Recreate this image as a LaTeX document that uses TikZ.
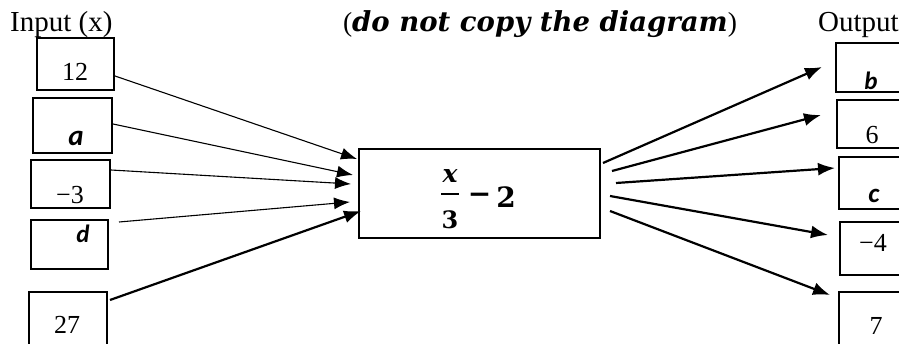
\documentclass[tikz,border=0pt]{standalone}
\usepackage{fontspec}
\setmainfont{Liberation Serif}
\newfontfamily\calib{Carlito}
\newfontfamily\dvs{DejaVu Serif}
\usetikzlibrary{arrows.meta}
\begin{document}
\begin{tikzpicture}[x=1pt,y=-1pt,
  box/.style={draw, line width=2pt, inner sep=0pt},
  numtxt/.style={inner sep=0pt, font=\fontsize{26}{30}\selectfont},
  lettxt/.style={inner sep=0pt},
  formtxt/.style={inner sep=0pt},
  thinarrow/.style={line width=1.1pt, -{Latex[length=16pt,width=12pt]}},
  thickarrow/.style={line width=2.2pt, -{Latex[length=17pt,width=13pt]}},
  headtxt/.style={inner sep=0pt, anchor=base west, font=\fontsize{29}{34}\selectfont}]
\useasboundingbox (0,0) rectangle (899,344);
\clip (0,0) rectangle (899,344);
% headings
\node[headtxt] (hin) at (10,32) {Input (x)};
\node[headtxt] (hout) at (818,32) {Output};
\node[inner sep=0pt, anchor=base, font=\fontsize{27.5}{32}\selectfont] (note) at (540,32)
  {({\dvs\bfseries\itshape do not copy the diagram})};
% input boxes
\node[box, minimum width=77pt, minimum height=52pt] (in1) at (75.5,64) {};
\node[box, minimum width=79pt, minimum height=55pt] (in2) at (72.5,125.5) {};
\node[box, minimum width=79pt, minimum height=48pt] (in3) at (70.5,184) {};
\node[box, minimum width=77pt, minimum height=49pt] (in4) at (69.5,244.5) {};
\node[box, minimum width=78pt, minimum height=68pt] (in5) at (68,326) {};
\node[numtxt] (v12) at (75,72) {12};
\node[lettxt, font=\fontsize{29}{32}\selectfont\calib\bfseries\itshape] (va) at (76,138) {a};
\node[numtxt] (vm3) at (70,195) {\char"2212 3};
\node[lettxt, font=\fontsize{25}{28}\selectfont\calib\bfseries\itshape] (vd) at (83,234) {d};
\node[numtxt] (v27) at (67,325) {27};
% function box
\node[box, minimum width=241pt, minimum height=89pt] (f) at (479.5,193.5) {};
\node[formtxt, font=\fontsize{25}{28}\selectfont\dvs\bfseries\itshape] (fx) at (450,176.5) {x};
\node[formtxt, font=\fontsize{24}{26}\selectfont\dvs\bfseries] (f3) at (450,220) {3};
\draw[line width=1.4pt] (441,194) -- (459,194);
\node[formtxt, font=\fontsize{28}{30}\selectfont\dvs\bfseries] (fmin) at (479.5,198) {\char"2212};
\node[formtxt, font=\fontsize{28}{30}\selectfont\dvs\bfseries] (f2) at (506,197) {2};
% output boxes
\node[box, minimum width=74pt, minimum height=49pt] (out1) at (873,67.5) {};
\node[box, minimum width=73pt, minimum height=48pt] (out2) at (873.5,124) {};
\node[box, minimum width=71pt, minimum height=52pt] (out3) at (874.5,183) {};
\node[box, minimum width=70pt, minimum height=53pt] (out4) at (875,248.5) {};
\node[box, minimum width=71pt, minimum height=68pt] (out5) at (874.5,326) {};
\node[lettxt, font=\fontsize{25}{28}\selectfont\calib\bfseries\itshape] (vb) at (871,81) {b};
\node[numtxt] (v6) at (872,135) {6};
\node[lettxt, font=\fontsize{27}{30}\selectfont\calib\bfseries\itshape] (vc) at (874,196) {c};
\node[numtxt] (vm4) at (873,243) {\char"2212 4};
\node[numtxt] (v7) at (876,326) {7};
% input arrows
\draw[thinarrow] ([yshift=-12pt]in1.east) -- ([xshift=-1pt,yshift=34.5pt]f.west);
\draw[thinarrow] ([yshift=1.5pt]in2.east) -- ([xshift=-5pt,yshift=18.5pt]f.west);
\draw[thinarrow] ([yshift=14pt]in3.east) -- ([xshift=-7pt,yshift=9.5pt]f.west);
\draw[thinarrow] ([xshift=10pt,yshift=22.5pt]in4.east) -- ([xshift=-8pt,yshift=-8.5pt]f.west);
\draw[thickarrow] ([xshift=2pt,yshift=26pt]in5.east) -- ([xshift=3pt,yshift=-17.5pt]f.west);
% output arrows
\draw[thickarrow] ([xshift=2pt,yshift=30.5pt]f.east) -- ([xshift=-13pt,yshift=0.5pt]out1.west);
\draw[thickarrow] ([xshift=11pt,yshift=22.5pt]f.east) -- ([xshift=-15pt,yshift=9pt]out2.west);
\draw[thickarrow] ([xshift=15pt,yshift=10.5pt]f.east) -- ([xshift=-3pt,yshift=15pt]out3.west);
\draw[thickarrow] ([xshift=9pt,yshift=-2.5pt]f.east) -- ([xshift=-11pt,yshift=13.5pt]out4.west);
\draw[thickarrow] ([xshift=9pt,yshift=-17.5pt]f.east) -- ([xshift=-8pt,yshift=31pt]out5.west);
\end{tikzpicture}
\end{document}
